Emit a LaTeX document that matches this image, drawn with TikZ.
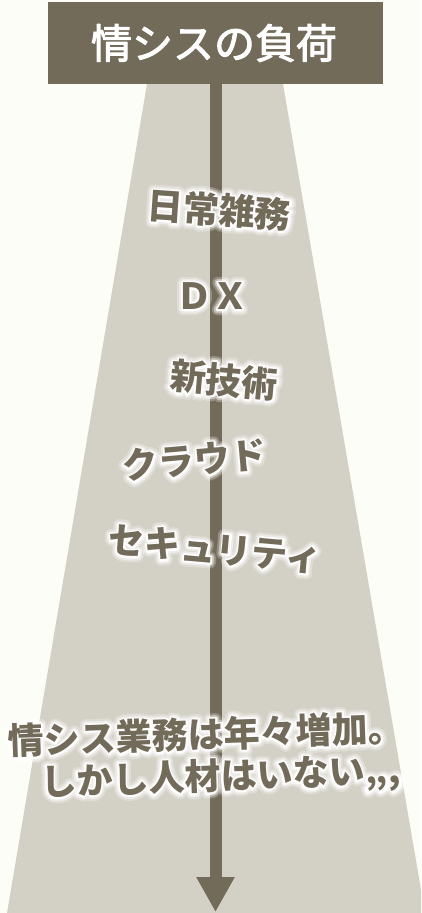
\documentclass[tikz,border=0pt]{standalone}
\usepackage{fontspec}
\setmainfont{Noto Sans CJK JP}
\newfontfamily\glowA{Noto Sans CJK JP}[FakeBold=32]
\newfontfamily\glowB{Noto Sans CJK JP}[FakeBold=21]
\newfontfamily\glowC{Noto Sans CJK JP}[FakeBold=11]
\newfontfamily\titlefont{Noto Sans CJK JP}[FakeBold=2.5]
\usetikzlibrary{arrows.meta,calc}
\definecolor{bgc}{HTML}{FDFDF8}
\definecolor{boxc}{HTML}{736B5A}
\definecolor{roadc}{HTML}{D3D1C6}
\newcommand\roundjoin{\special{pdf:literal 1 j 1 J}}
\tikzset{
  lbl/.style={text=boxc, font=\fontsize{36}{40}\selectfont\bfseries, inner sep=0pt},
  glowa/.style={text=white, opacity=.25, font=\glowA\fontsize{36}{40}\selectfont\bfseries, inner sep=0pt},
  glowb/.style={text=white, opacity=.45, font=\glowB\fontsize{36}{40}\selectfont\bfseries, inner sep=0pt},
  glowc/.style={text=white, opacity=.92, font=\glowC\fontsize{36}{40}\selectfont\bfseries, inner sep=0pt},
  titletext/.style={text=white, font=\titlefont\fontsize{41}{46}\selectfont, inner sep=0pt},
}
\newcommand\halo[4]{%
  \node[glowa,rotate=#1] at (#3) {\roundjoin#4};
  \node[glowb,rotate=#1] at (#3) {\roundjoin#4};
  \node[glowc,rotate=#1] at (#3) {\roundjoin#4};
  \node[lbl,rotate=#1] (#2) at (#3) {#4};}
\begin{document}
\begin{tikzpicture}[x=1pt,y=-1pt]
\useasboundingbox (0,0) rectangle (421,913);
\fill[bgc] (0,0) rectangle (421,913);
\begin{scope}
  \clip (0,0) rectangle (421,913);
  \fill[roadc] (147,84) -- (283,84) -- (425,913) -- (7,913) -- cycle;
\end{scope}
\fill[boxc] (48,2) rectangle (383,84);
\node[titletext] (title) at (214,43) {\roundjoin 情シスの負荷};
\coordinate (top) at (215.5,84);
\coordinate (tip) at (215.5,912);
\draw[boxc, line width=12pt, -{Triangle[width=36pt,length=35pt]}] (top) -- (tip);
\halo{-4}{l1}{219,210}{日常雑務}
\halo{0}{l2}{212,296}{ＤＸ}
\halo{-5}{l3}{224,380}{新技術}
\halo{5}{l4}{194,460}{クラウド}
\halo{-5}{l5}{215,549}{セキュリティ}
\halo{2}{l6}{206,734}{情シス業務は年々増加。}
\halo{2}{l7}{221,778}{しかし人材はいない,,,}
\end{tikzpicture}
\end{document}
